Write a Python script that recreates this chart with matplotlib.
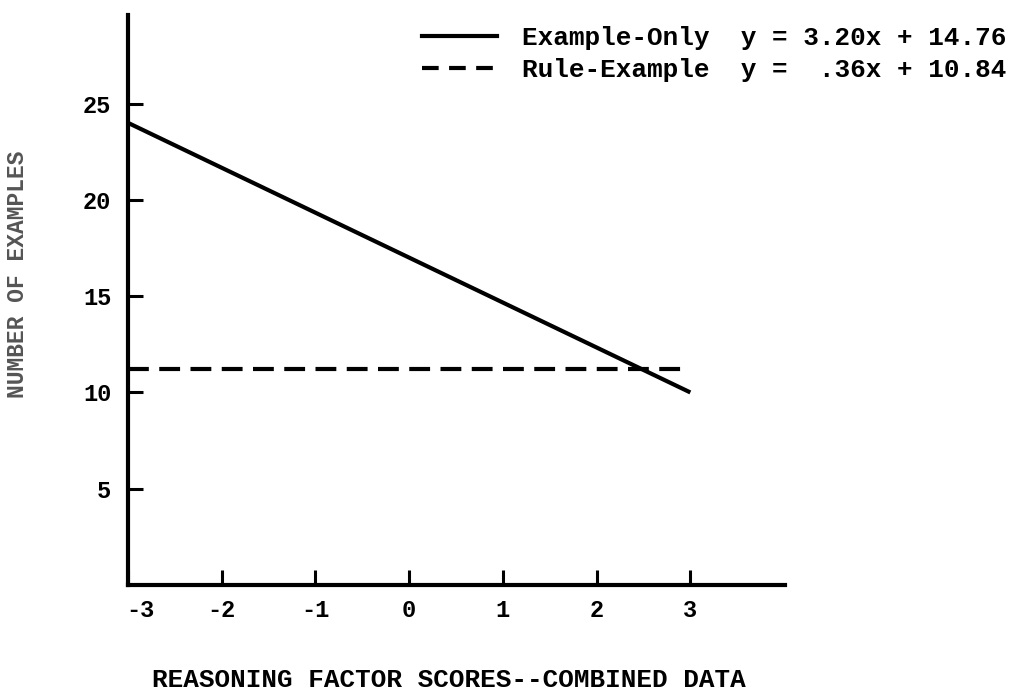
"""Number of examples vs reasoning factor scores (combined data)."""
import matplotlib
matplotlib.use("Agg")
import matplotlib.pyplot as plt
import matplotlib.transforms as mtransforms
from matplotlib.lines import Line2D

# data
x_scores = [-3, 3]
example_only = [24.0, 10.0]
rule_example = [11.2, 11.2]
x_ticks = [-3, -2, -1, 0, 1, 2, 3]
y_ticks = [5, 10, 15, 20, 25]
legend_labels = ["Example-Only  y = 3.20x + 14.76",
                 "Rule-Example  y =  .36x + 10.84"]
xlabel = "REASONING FACTOR SCORES--COMBINED DATA"
ylabel = "NUMBER OF EXAMPLES"

W, H = 1017, 691
plt.rcParams["font.family"] = ["Liberation Mono", "DejaVu Sans Mono"]
plt.rcParams["font.weight"] = "bold"

fig = plt.figure(figsize=(W / 100, H / 100), dpi=100)
ax = fig.add_axes([128 / W, (H - 585) / H, (785 - 128) / W, (585 - 15) / H])

ax.plot(x_scores, example_only, color="black", lw=3, solid_capstyle="butt")
ax.plot(x_scores, rule_example, color="black", lw=3, dashes=(5, 2.5))

ax.set_xlim(-3, 4.01)
ax.set_ylim(0, 29.6)
ax.set_xticks(x_ticks)
ax.set_yticks(y_ticks)
ax.set_xticklabels([str(t) for t in x_ticks], fontsize=17, fontweight="bold")
ax.set_yticklabels([str(t) for t in y_ticks], fontsize=17, fontweight="bold")
ax.tick_params(direction="in", length=11, width=2.2, pad=10)
ax.tick_params(axis="y", pad=12)
# nudge the -3 label off the corner like the original
lbl = ax.get_xticklabels()[0]
lbl.set_transform(lbl.get_transform() + mtransforms.ScaledTranslation(12 / 100, 0, fig.dpi_scale_trans))

for side in ("top", "right"):
    ax.spines[side].set_visible(False)
for side in ("left", "bottom"):
    ax.spines[side].set_linewidth(3)

ax.set_ylabel(ylabel, fontsize=16.5, fontweight="bold", color="#555555")
ax.yaxis.set_label_coords(-0.15, 0.545)
fig.text(152 / W, 1 - 680 / H, xlabel, fontsize=18.7, fontweight="bold",
         ha="left", va="center")

handles = [Line2D([], [], color="black", lw=3),
           Line2D([], [], color="black", lw=3, dashes=(4, 2.5))]
fig.legend(handles, legend_labels, loc="upper left",
           bbox_to_anchor=(422 / W, 1 - 26 / H), frameon=False,
           prop={"size": 18.7, "weight": "bold"}, handlelength=2.9,
           handletextpad=0.95, labelspacing=0.3, borderpad=0, borderaxespad=0)

fig.savefig("out.png", dpi=100)
